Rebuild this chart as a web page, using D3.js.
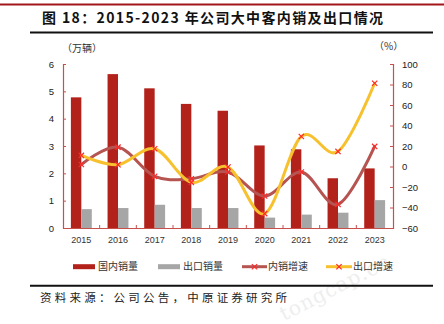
<!DOCTYPE html>
<html><head><meta charset="utf-8">
<script src="https://cdn.jsdelivr.net/npm/d3@7/dist/d3.min.js"></script>
<style>html,body{margin:0;padding:0;background:#fff;}svg{display:block;}</style>
</head><body>
<svg id="c" width="444" height="324"></svg>
<script>
const years = ["2015","2016","2017","2018","2019","2020","2021","2022","2023"];
const domesticSales = [4.78, 5.63, 5.11, 4.54, 4.29, 3.02, 2.88, 1.82, 2.18];
const exportSales   = [0.69, 0.73, 0.85, 0.73, 0.73, 0.38, 0.49, 0.56, 1.02];
const domesticGrowth = [2.0, 18.9, -9.6, -11.9, -5.4, -28.8, -5.4, -36.9, 19.6];
const exportGrowth   = [10.8, 1.8, 17.3, -15.5, -0.5, -46.0, 29.3, 14.7, 81.2];
const leftTicks = [0,1,2,3,4,5,6];
const rightTicks = [-60,-40,-20,0,20,40,60,80,100];
const seriesNames = ["国内销量","出口销量","内销增速","出口增速"];

const cjk = "'Noto Sans CJK SC','Noto Sans',sans-serif";
const num = "'Liberation Sans',Arial,sans-serif";
const svg = d3.select("#c");
const axisCol = "#c8504c";
const redBar = "#b3211b", grayBar = "#a6a6a6";
const brownLine = "#b55450", yellowLine = "#f7c12e", markCol = "#ff2a2a";

// top red rule
svg.append("line").attr("x1",0).attr("x2",444).attr("y1",4.5).attr("y2",4.5)
  .attr("stroke","#a3161a").attr("stroke-width",2);
// title
svg.append("text").attr("x",42).attr("y",22.5)
  .attr("font-family",cjk).attr("font-weight","bold").attr("font-size",14).attr("fill","#111")
  .attr("textLength",341).attr("lengthAdjust","spacing")
  .text("图 18：2015-2023 年公司大中客内销及出口情况");
svg.append("line").attr("x1",30).attr("x2",433).attr("y1",32.5).attr("y2",32.5)
  .attr("stroke","#111").attr("stroke-width",2);

// watermark
svg.append("text").attr("transform","translate(284,321) rotate(-27)")
  .attr("font-family","'DejaVu Serif','Liberation Serif',serif").attr("font-size",20)
  .attr("fill","#eeeeee").attr("letter-spacing",1).text("tongcap.cn");

const x = d3.scaleBand().domain(years).range([63,393]).padding(0);
const yL = d3.scaleLinear().domain([0,6]).range([228,64]);
const yR = d3.scaleLinear().domain([-60,100]).range([228,64]);
const bw = x.bandwidth()*0.285;
const cx = d => x(d) + x.bandwidth()/2;

// bars
svg.append("g").selectAll("rect").data(years).join("rect")
  .attr("x", d => cx(d)-bw).attr("width", bw)
  .attr("y", (d,i) => yL(domesticSales[i])).attr("height",(d,i)=>yL(0)-yL(domesticSales[i]))
  .attr("fill", redBar);
svg.append("g").selectAll("rect").data(years).join("rect")
  .attr("x", d => cx(d)).attr("width", bw)
  .attr("y", (d,i) => yL(exportSales[i])).attr("height",(d,i)=>yL(0)-yL(exportSales[i]))
  .attr("fill", grayBar);

// axes
const gL = svg.append("g").attr("transform","translate(63,0)")
  .call(d3.axisLeft(yL).tickValues(leftTicks).tickSize(-3).tickPadding(9).tickFormat(d3.format("d")));
const gR = svg.append("g").attr("transform","translate(393,0)")
  .call(d3.axisRight(yR).tickValues(rightTicks).tickSize(-3).tickPadding(9).tickFormat(d3.format("d")));
const gB = svg.append("g").attr("transform","translate(0,228)")
  .call(d3.axisBottom(x).tickSize(0).tickPadding(9));
// category boundary ticks
svg.append("g").selectAll("line").data(years.slice(1)).join("line")
  .attr("x1", d=>x(d)).attr("x2", d=>x(d)).attr("y1",228).attr("y2",225)
  .attr("stroke",axisCol).attr("stroke-width",1);
[gL,gR,gB].forEach(g=>{
  g.select(".domain").attr("stroke",axisCol).attr("stroke-width",1.2);
  g.selectAll(".tick line").attr("stroke",axisCol);
  g.selectAll("text").attr("font-family",num).attr("font-size",9.5).attr("fill","#222");
});
gB.selectAll("text").attr("font-size",9).attr("fill","#333");

// lines
const curve = d3.curveCatmullRom.alpha(0);
function drawLine(vals, col){
  const line = d3.line().x((d,i)=>cx(years[i])).y(d=>yR(d)).curve(curve);
  svg.append("path").datum(vals).attr("d",line).attr("fill","none")
    .attr("stroke",col).attr("stroke-width",3).attr("stroke-linecap","round");
}
drawLine(domesticGrowth, brownLine);
drawLine(exportGrowth, yellowLine);
const sym = d3.symbol().type(d3.symbolX).size(20);
function drawMarks(vals){
  svg.append("g").selectAll("path").data(vals).join("path")
    .attr("transform",(d,i)=>`translate(${cx(years[i])},${yR(d)})`)
    .attr("d",sym).attr("fill","none").attr("stroke",markCol).attr("stroke-width",1.2);
}
drawMarks(domesticGrowth);
drawMarks(exportGrowth);

// unit labels
svg.append("text").attr("x",62).attr("y",52).attr("font-family",cjk).attr("font-size",10)
  .attr("fill","#333").text("（万辆）");
svg.append("text").attr("x",374).attr("y",50).attr("font-family",cjk).attr("font-size",10)
  .attr("fill","#333").text("（%）");

// legend
const ly = 266.7;
const leg = svg.append("g").attr("font-family",cjk).attr("font-size",10).attr("fill","#333");
leg.append("rect").attr("x",73).attr("y",ly-2.5).attr("width",22).attr("height",5).attr("fill",redBar);
leg.append("text").attr("x",98).attr("y",ly+3.5).text(seriesNames[0]);
leg.append("rect").attr("x",158).attr("y",ly-2.5).attr("width",22).attr("height",5).attr("fill",grayBar);
leg.append("text").attr("x",183).attr("y",ly+3.5).text(seriesNames[1]);
leg.append("line").attr("x1",242).attr("x2",267).attr("y1",ly).attr("y2",ly).attr("stroke",brownLine).attr("stroke-width",3);
leg.append("path").attr("transform",`translate(254.5,${ly})`).attr("d",sym).attr("stroke",markCol).attr("stroke-width",1.2).attr("fill","none");
leg.append("text").attr("x",268).attr("y",ly+3.5).text(seriesNames[2]);
leg.append("line").attr("x1",326).attr("x2",352).attr("y1",ly).attr("y2",ly).attr("stroke",yellowLine).attr("stroke-width",3);
leg.append("path").attr("transform",`translate(339,${ly})`).attr("d",sym).attr("stroke",markCol).attr("stroke-width",1.2).attr("fill","none");
leg.append("text").attr("x",353).attr("y",ly+3.5).text(seriesNames[3]);

// footer
svg.append("line").attr("x1",30).attr("x2",433).attr("y1",285.7).attr("y2",285.7)
  .attr("stroke","#111").attr("stroke-width",2);
svg.append("text").attr("x",40).attr("y",302).attr("font-family",cjk).attr("font-size",11.5)
  .attr("fill","#222").attr("textLength",247).attr("lengthAdjust","spacing")
  .text("资料来源：公司公告，中原证券研究所");
</script>
</body></html>
